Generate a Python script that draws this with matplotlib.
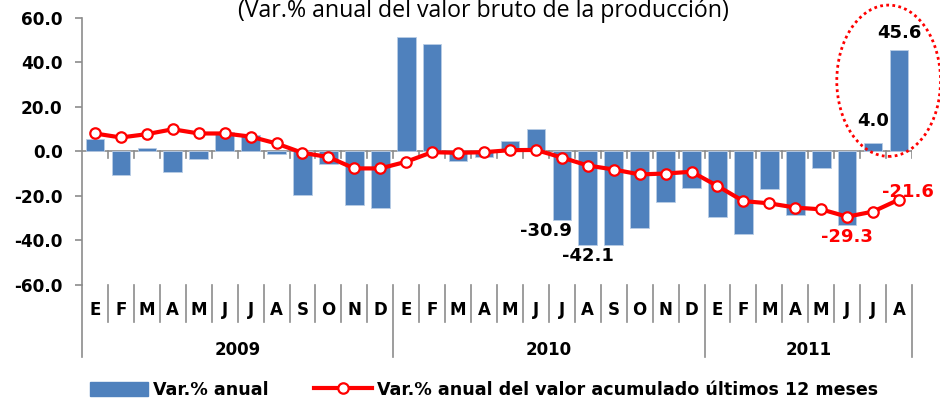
import matplotlib as mpl
import matplotlib.pyplot as plt
import numpy as np
from matplotlib.lines import Line2D
from matplotlib.patches import Ellipse, Patch

# ========= Data =========
MONTHS = ["E", "F", "M", "A", "M", "J", "J", "A", "S", "O", "N", "D"] * 2 + ["E", "F", "M", "A", "M", "J", "J", "A"]
YEARS = ["2009", "2010", "2011"]
YEAR_LEN = [12, 12, 8]

var_anual = [5.4, -10.6, 1.5, -9.1, -3.3, 8.8, 7.2, -0.9, -19.6, -5.5, -24.2, -25.2,
             51.6, 48.4, -4.2, -2.4, 4.6, 10.3, -30.9, -42.1, -42.1, -34.2, -22.5, -16.3,
             -29.3, -37.2, -17.0, -28.4, -7.3, -33.1, 4.0, 45.6]
var_acum12 = [8.1, 6.3, 7.8, 10.0, 8.1, 8.1, 6.7, 3.6, -0.6, -2.5, -7.6, -7.6,
              -4.6, -0.3, -0.6, -0.3, 0.6, 0.7, -2.7, -6.3, -8.1, -10.3, -9.9, -9.1,
              -15.5, -22.3, -23.3, -25.2, -26.0, -29.3, -27.0, -21.6]

BAR_LABELS = {18: "-30.9", 19: "-42.1", 30: "4.0", 31: "45.6"}
LINE_LABELS = {29: "-29.3", 31: "-21.6"}

BLUE = "#4F81BD"
RED = "#FF0000"
GRAY = "#8C8C8C"
NARROW = ["Liberation Sans Narrow", "DejaVu Sans"]
FS = 13

mpl.rcParams["font.family"] = ["DejaVu Sans"]

fig = plt.figure(figsize=(9.4, 4.01), dpi=100)
ax = fig.add_axes([82 / 940, 116 / 401, 830 / 940, 267 / 401])

n = len(var_anual)
x = np.arange(n) + 0.5
ax.bar(x, var_anual, width=0.72, color=BLUE, edgecolor="#B9CDE5", linewidth=0.6, zorder=2)
ax.axhline(0, color=GRAY, lw=1.2, zorder=1)
ax.plot(x, var_acum12, color=RED, lw=3, marker="o", ms=7.5, mfc="white",
        mec=RED, mew=1.6, zorder=4)

ax.set_xlim(0, n)
ax.set_ylim(-60, 60)
ax.set_yticks(np.arange(-60, 61, 20))
ax.set_yticklabels([f"{v:.1f}" for v in np.arange(-60, 61, 20)], fontsize=12.2, fontweight="bold")
ax.tick_params(axis="y", length=5, color=GRAY, width=1.2, pad=9)
ax.set_xticks([])
for s in ["top", "right", "bottom"]:
    ax.spines[s].set_visible(False)
ax.spines["left"].set_color(GRAY)
ax.spines["left"].set_linewidth(1.2)

# small tick marks below the zero line at month boundaries
for k in range(1, n + 1):
    ax.plot([k, k], [0, -3], color=GRAY, lw=1.2, zorder=1)

# category area below the plot
xt = ax.get_xaxis_transform()
starts = np.cumsum([0] + YEAR_LEN)
for k in range(0, n + 1):
    bottom = -0.27 if k in starts else -0.14
    ax.plot([k, k], [0, bottom], color=GRAY, lw=1.2, transform=xt, clip_on=False)
for i, m in enumerate(MONTHS):
    ax.text(i + 0.5, -0.094, m, transform=xt, ha="center", va="center",
            fontsize=12, fontweight="bold", family=NARROW)
for yr, s0, ln in zip(YEARS, starts[:-1], YEAR_LEN):
    ax.text(s0 + ln / 2, -0.243, yr, transform=xt, ha="center", va="center",
            fontsize=12, fontweight="bold", family=NARROW)

# data labels
for i, t in BAR_LABELS.items():
    v = var_anual[i]
    if v < 0:
        ax.text(x[i] - (0.6 if i == 18 else 0), v - 5, t, ha="center", va="center",
                fontsize=FS, fontweight="bold")
    else:
        ax.text(x[i], v + (9.5 if i == 30 else 7.5), t, ha="center", va="center",
                fontsize=FS, fontweight="bold")
for i, t in LINE_LABELS.items():
    v = var_acum12[i]
    if i == 29:
        ax.text(x[i], v - 9, t, ha="center", va="center", color=RED,
                fontsize=FS, fontweight="bold")
    else:
        ax.text(x[i] + 0.35, v + 3.6, t, ha="center", va="center", color=RED,
                fontsize=FS, fontweight="bold")

ax.add_patch(Ellipse((31.1, 31.8), 4.0, 68, fill=False, ec=RED, lw=2,
                     ls=(0, (1, 1.2)), clip_on=False, zorder=5))

fig.text(483 / 940, 1 - 11 / 401, "(Var.% anual del valor bruto de la producción)",
         ha="center", va="center", fontsize=16.7, family=["Open Sans", "DejaVu Sans"])

handles = [
    Patch(facecolor=BLUE, edgecolor=BLUE),
    Line2D([], [], color=RED, lw=3, marker="o", ms=7.5, mfc="white", mec=RED, mew=1.6),
]
fig.legend(handles, ["Var.% anual", "Var.% anual del valor acumulado últimos 12 meses"],
           loc="center", bbox_to_anchor=(0.515, 0.028), ncol=2, frameon=False,
           handlelength=3.3, handleheight=0.85, columnspacing=2.6, handletextpad=0.3,
           prop={"family": NARROW, "weight": "bold", "size": 12.6})

fig.savefig("out.png", dpi=100)
